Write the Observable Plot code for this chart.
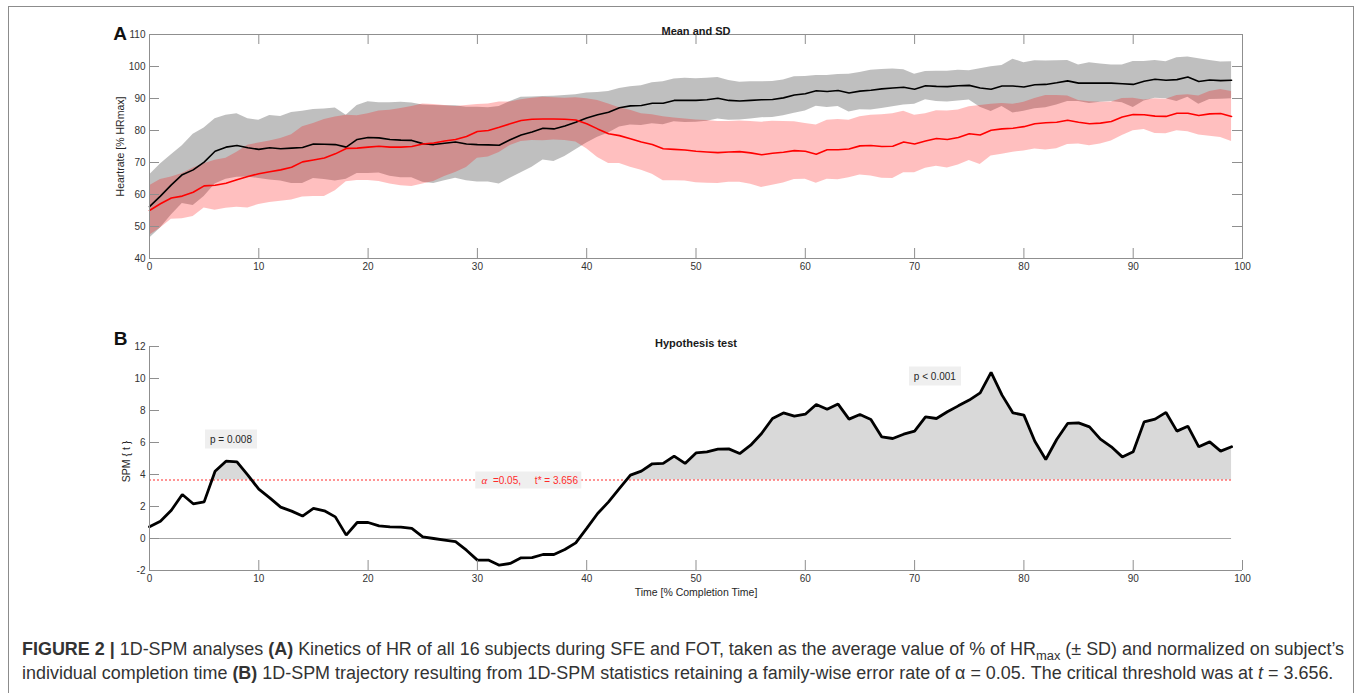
<!DOCTYPE html>
<html>
<head>
<meta charset="utf-8">
<script src="https://cdn.jsdelivr.net/npm/d3@7"></script>
<script src="https://cdn.jsdelivr.net/npm/@observablehq/plot@0.6"></script>
<style>
  html, body { margin: 0; padding: 0; background: #fff; }
  body { width: 1360px; height: 693px; overflow: hidden; position: relative; font-family: "Liberation Sans", Arial, sans-serif; }
  #border { position: absolute; left: 8px; top: 6px; width: 1346px; height: 740px; border: 1px solid #8c8c8c; box-sizing: border-box; }
  #panelA { position: absolute; left: 0; top: 0; }
  #panelB { position: absolute; left: 0; top: 300px; }
  .note { position: absolute; background: #efefef; font-size: 10px; line-height: 12px; white-space: nowrap; transform: translate(-50%, -50%); color: #262626; }
  #caption { position: absolute; left: 22px; top: 638px; color: #333; white-space: nowrap; }
  #caption div { height: 24px; line-height: 22px; }
  #caption sub { font-size: 72%; vertical-align: -0.35em; line-height: 0; }
</style>
</head>
<body>
<div id="border"></div>
<div id="panelA"></div>
<div id="panelB"></div>
<div id="notes"></div>
<div id="caption">
  <div id="cap1"><b>FIGURE 2 |</b> 1D-SPM analyses <b>(A)</b> Kinetics of HR of all 16 subjects during SFE and FOT, taken as the average value of % of HR<sub>max</sub> (± SD) and normalized on subject’s</div>
  <div id="cap2">individual completion time <b>(B)</b> 1D-SPM trajectory resulting from 1D-SPM statistics retaining a family-wise error rate of α = 0.05. The critical threshold was at <i>t</i> = 3.656.</div>
</div>
<script>
// ---------------- data ----------------
const timePct = [0,1,2,3,4,5,6,7,8,9,10,11,12,13,14,15,16,17,18,19,20,21,22,23,24,25,26,27,28,29,30,31,32,33,34,35,36,37,38,39,40,41,42,43,44,45,46,47,48,49,50,51,52,53,54,55,56,57,58,59,60,61,62,63,64,65,66,67,68,69,70,71,72,73,74,75,76,77,78,79,80,81,82,83,84,85,86,87,88,89,90,91,92,93,94,95,96,97,98,99];

// SFE (black) mean and SD of %HRmax
const sfeMean = [56.2,59.5,63.0,66.2,67.7,70.1,73.5,74.8,75.3,74.6,
  74.1,74.6,74.3,74.5,74.7,75.8,75.7,75.6,74.8,77.2,
  77.8,77.7,77.2,77.0,76.9,75.9,75.6,76.0,76.4,75.8,
  75.6,75.5,75.4,77.1,78.6,79.5,80.7,80.5,81.4,82.6,
  83.9,84.9,85.7,87.1,87.7,87.8,88.5,88.5,89.4,89.4,
  89.4,89.6,90.1,89.4,89.2,89.4,89.6,89.7,90.2,91.1,
  91.5,92.4,92.2,92.5,91.7,92.3,92.6,93.0,93.3,93.5,
  92.9,94.0,93.8,93.7,94.0,94.1,93.3,92.9,93.9,93.9,
  93.6,94.3,94.4,94.9,95.5,94.8,94.8,94.8,94.8,94.6,
  94.4,95.4,96.0,95.7,95.9,96.7,95.3,95.8,95.6,95.7];
const sfeSD = [9.9,10.0,9.4,9.0,11.1,10.7,10.2,10.0,9.9,9.1,
  9.1,10.1,10.1,11.1,11.3,10.8,11.0,11.4,10.0,10.6,
  11.2,11.0,11.5,11.8,11.7,12.1,12.2,11.7,11.3,11.5,
  11.7,11.6,12.1,12.0,11.8,11.0,9.9,10.2,9.5,8.6,
  7.8,7.0,6.5,6.0,6.0,6.2,6.4,6.7,6.7,6.9,
  6.8,6.7,6.5,6.2,5.9,5.8,5.6,5.6,5.6,5.7,
  5.4,4.8,5.0,5.0,5.9,5.8,6.2,6.1,5.9,5.5,
  4.7,4.4,4.7,4.8,4.8,4.6,6.0,7.0,6.4,8.4,
  7.6,7.5,7.3,6.9,6.4,5.7,6.4,6.0,5.7,5.9,
  7.2,6.2,5.9,5.8,6.8,6.3,7.1,6.1,5.8,5.8];

// FOT (red) mean and SD of %HRmax
const fotMean = [55.0,57.1,58.9,59.5,60.7,62.7,62.9,63.5,64.6,65.6,
  66.5,67.1,67.7,68.5,70.2,70.8,71.4,72.7,74.4,74.5,
  74.8,75.1,74.8,74.8,75.0,75.8,76.1,76.7,77.2,78.1,
  79.7,80.0,81.0,82.1,83.1,83.5,83.6,83.6,83.5,83.3,
  82.1,80.5,79.0,78.4,77.4,76.4,75.6,74.3,74.1,73.9,
  73.5,73.3,73.1,73.3,73.4,73.0,72.4,72.9,73.2,73.7,
  73.5,72.6,74.0,74.0,74.2,75.2,75.3,75.0,75.1,76.4,
  75.8,76.7,77.5,77.2,77.8,79.0,78.6,80.1,80.5,80.7,
  81.2,82.1,82.4,82.6,83.2,82.6,82.1,82.3,82.8,84.2,
  85.0,84.9,84.5,84.4,85.4,85.4,84.7,85.2,85.3,84.4];
const fotSD = [7.7,7.6,6.6,7.1,7.6,6.9,7.8,7.8,8.6,9.8,
  9.6,9.6,9.8,10.2,11.0,11.4,12.0,11.5,10.4,10.1,
  10.4,11.0,11.5,12.1,12.5,12.5,12.0,11.1,10.3,9.7,
  8.4,8.3,7.9,6.8,6.5,6.6,6.8,6.6,6.6,6.9,
  7.8,8.9,9.3,8.7,8.9,8.8,9.3,10.0,9.8,9.7,
  9.8,9.8,9.7,9.5,9.6,9.8,10.2,10.0,9.6,9.0,
  8.7,9.1,9.2,9.4,9.0,9.1,9.5,9.9,10.1,9.6,
  9.0,8.5,8.7,8.9,8.6,8.4,9.2,8.1,7.9,7.5,
  7.6,7.9,8.5,8.3,7.6,6.8,6.9,6.5,6.1,5.8,
  5.1,4.6,5.4,5.4,5.5,5.8,6.1,7.0,7.5,7.8];

// SPM{t} trajectory
const spmT = [0.73,1.08,1.77,2.75,2.17,2.29,4.20,4.83,4.79,3.96,
  3.08,2.54,1.96,1.71,1.40,1.88,1.73,1.35,0.21,1.00,
  1.00,0.79,0.73,0.71,0.63,0.10,0.00,-0.10,-0.20,-0.73,
  -1.35,-1.35,-1.67,-1.56,-1.21,-1.19,-1.00,-1.00,-0.69,-0.27,
  0.63,1.56,2.29,3.13,3.96,4.21,4.67,4.69,5.15,4.69,
  5.35,5.42,5.58,5.60,5.31,5.83,6.56,7.50,7.85,7.65,
  7.77,8.38,8.08,8.40,7.46,7.75,7.44,6.35,6.25,6.52,
  6.71,7.60,7.50,7.92,8.29,8.65,9.10,10.38,8.96,7.85,
  7.71,6.08,4.94,6.19,7.19,7.23,6.98,6.21,5.73,5.10,
  5.42,7.29,7.46,7.88,6.71,7.02,5.73,6.04,5.46,5.73];
const criticalT = 3.656;

// axis ticks
const xTicks = [0,10,20,30,40,50,60,70,80,90,100];
const yTicksA = [40,50,60,70,80,90,100,110];
const yTicksB = [-2,0,2,4,6,8,10,12];

// annotation texts
const clusterLabels = ["p = 0.008", "p < 0.001"];
const clusterLabelT = [7.5, 71.9];
const clusterLabelV = [6.2, 10.1];
const alphaLabelT = 34.7;

// ---------------- layout ----------------
const W = 1360;
const mL = 149, mR = 118;
const frameW = W - mL - mR;
const axisGray = "#8f8f8f";
const plainFmt = d => String(d);
const baseStyle = { fontFamily: "'Liberation Sans', Arial, sans-serif", fontSize: "10px", color: "#333", background: "none", overflow: "visible" };

const rowsA = timePct.map((t, i) => ({ t, bm: sfeMean[i], bs: sfeSD[i], rm: fotMean[i], rs: fotSD[i] }));

const hA = 290, mTA = 34, mBA = 32;
const frameHA = hA - mTA - mBA;
const tickLen = 10;

const plotA = Plot.plot({
  width: W, height: hA,
  marginLeft: mL, marginRight: mR, marginTop: mTA, marginBottom: mBA,
  style: baseStyle,
  x: { domain: [0, 100], axis: null },
  y: { domain: [40, 110], axis: null },
  marks: [
    Plot.areaY(rowsA, { x: "t", y1: d => d.bm - d.bs, y2: d => d.bm + d.bs, fill: "#808080", fillOpacity: 0.5 }),
    Plot.areaY(rowsA, { x: "t", y1: d => d.rm - d.rs, y2: d => d.rm + d.rs, fill: "#ff0000", fillOpacity: 0.25 }),
    Plot.line(rowsA, { x: "t", y: "bm", stroke: "#000", strokeWidth: 1.6 }),
    Plot.line(rowsA, { x: "t", y: "rm", stroke: "#ff0000", strokeWidth: 1.6 }),
    Plot.frame({ stroke: axisGray }),
    Plot.tickX(xTicks, { x: d => d, insetBottom: frameHA - tickLen, stroke: axisGray }),
    Plot.tickX(xTicks, { x: d => d, insetTop: frameHA - tickLen, stroke: axisGray }),
    Plot.tickY(yTicksA, { y: d => d, insetRight: frameW - tickLen, stroke: axisGray }),
    Plot.tickY(yTicksA, { y: d => d, insetLeft: frameW - tickLen, stroke: axisGray }),
    Plot.axisX(xTicks, { tickSize: 0, tickPadding: 4, label: null, fill: "#333", tickFormat: plainFmt }),
    Plot.axisY(yTicksA, { tickSize: 0, tickPadding: 4, label: null, fill: "#333", tickFormat: plainFmt }),
    Plot.text(["Heartrate [% HRmax]"], { text: d => d, frameAnchor: "left", textAnchor: "middle", dx: -29, rotate: -90, fontSize: 10.5, fill: "#262626" }),
    Plot.text(["Mean and SD"], { text: d => d, frameAnchor: "top", dy: -7, fontSize: 11, fontWeight: "bold", fill: "#1a1a1a" }),
    Plot.text(["A"], { text: d => d, frameAnchor: "top-left", textAnchor: "middle", dx: -29.5, dy: -8, fontSize: 19, fontWeight: "bold", fill: "#111" })
  ]
});
document.getElementById("panelA").append(plotA);

// ---------------- panel B ----------------
const rowsB = timePct.map((t, i) => ({ t, v: spmT[i] }));

// supra-threshold clusters (closed at the exact threshold crossings)
const clusterPts = [];
let cl = -1, inside = false;
for (let i = 0; i < rowsB.length; i++) {
  const v = rowsB[i].v;
  if (i > 0) {
    const v0 = rowsB[i - 1].v;
    if ((v0 - criticalT) * (v - criticalT) < 0) {
      const tc = rowsB[i - 1].t + (rowsB[i].t - rowsB[i - 1].t) * (criticalT - v0) / (v - v0);
      if (!inside) { cl++; inside = true; clusterPts.push({ t: tc, v: criticalT, c: cl }); }
      else { clusterPts.push({ t: tc, v: criticalT, c: cl }); inside = false; }
    }
  }
  if (v >= criticalT) {
    if (!inside) { cl++; inside = true; }
    clusterPts.push({ t: rowsB[i].t, v, c: cl });
  }
}

const hB = 310, mTB = 46, mBB = 40;
const frameHB = hB - mTB - mBB;
const tFirst = timePct[0], tLast = timePct[timePct.length - 1];

const plotB = Plot.plot({
  width: W, height: hB,
  marginLeft: mL, marginRight: mR, marginTop: mTB, marginBottom: mBB,
  style: baseStyle,
  x: { domain: [0, 100], axis: null },
  y: { domain: [-2, 12], axis: null },
  marks: [
    Plot.areaY(clusterPts, { x: "t", y1: () => criticalT, y2: "v", z: "c", fill: "#d9d9d9" }),
    Plot.ruleY([0], { x1: tFirst, x2: tLast, stroke: "#a6a6a6", strokeWidth: 1 }),
    Plot.ruleY([criticalT], { x1: tFirst, x2: tLast, stroke: "#ff2a2a", strokeWidth: 1, strokeDasharray: "2,2" }),
    Plot.line(rowsB, { x: "t", y: "v", stroke: "#000", strokeWidth: 2.8, strokeLinejoin: "miter" }),
    Plot.ruleX([0], { stroke: axisGray }),
    Plot.ruleY([-2], { stroke: axisGray }),
    Plot.tickX(xTicks, { x: d => d, insetTop: frameHB - tickLen, stroke: axisGray }),
    Plot.tickY(yTicksB, { y: d => d, insetRight: frameW - tickLen, stroke: axisGray }),
    Plot.axisX(xTicks, { tickSize: 0, tickPadding: 4, label: null, fill: "#333", tickFormat: plainFmt }),
    Plot.axisY(yTicksB, { tickSize: 0, tickPadding: 4, label: null, fill: "#333", tickFormat: plainFmt }),
    Plot.text(["SPM { t }"], { text: d => d, frameAnchor: "left", textAnchor: "middle", dx: -23, dy: 3, rotate: -90, fontSize: 10.5, fill: "#262626" }),
    Plot.text(["Time [% Completion Time]"], { text: d => d, frameAnchor: "bottom", dy: 25, fontSize: 10.5, fill: "#262626" }),
    Plot.text(["Hypothesis test"], { text: d => d, frameAnchor: "top", dy: -7, fontSize: 11, fontWeight: "bold", fill: "#1a1a1a" }),
    Plot.text(["B"], { text: d => d, frameAnchor: "top-left", textAnchor: "middle", dx: -29, dy: -15.5, fontSize: 19, fontWeight: "bold", fill: "#111" })
  ]
});
document.getElementById("panelB").append(plotB);

// ---------------- annotation boxes (positioned through Plot's scales) ----------------
const sx = plotB.scale("x"), sy = plotB.scale("y");
const offB = 300;
const notes = document.getElementById("notes");
clusterLabels.forEach((txt, i) => {
  const d = document.createElement("div");
  d.className = "note";
  d.style.padding = "4px 5px 3px 5px";
  d.style.left = sx.apply(clusterLabelT[i]) + "px";
  d.style.top = (offB + sy.apply(clusterLabelV[i])) + "px";
  d.textContent = txt;
  notes.append(d);
});
const a = document.createElement("div");
a.className = "note";
a.style.padding = "2px 3px 2px 6px";
a.style.color = "#ff2a2a";
a.style.left = sx.apply(alphaLabelT) + "px";
a.style.top = (offB + sy.apply(criticalT)) + "px";
a.innerHTML = '<i style="font-family:\'Liberation Serif\',serif;font-size:11px">α</i>&nbsp;&nbsp;=0.05,&nbsp;&nbsp;&nbsp;&nbsp; t* = 3.656';
notes.append(a);

// ---------------- caption sizing ----------------
const cap = document.getElementById("caption");
cap.style.fontSize = "15px";
const c1 = document.getElementById("cap1"), c2 = document.getElementById("cap2");
c1.style.display = c2.style.display = "inline-block";
const wMax = Math.max(c1.getBoundingClientRect().width, c2.getBoundingClientRect().width);
cap.style.fontSize = (15 * 1322 / wMax).toFixed(2) + "px";
c1.style.display = c2.style.display = "block";
</script>
</body>
</html>
